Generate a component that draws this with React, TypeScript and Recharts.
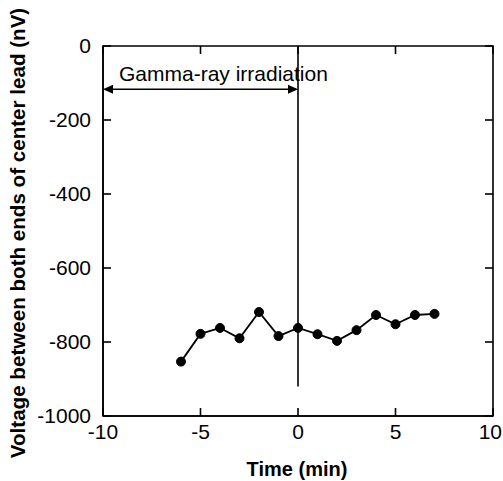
import React from 'react';
import { ComposedChart, Line, XAxis, YAxis, ReferenceLine, ReferenceArea } from 'recharts';

const times = [-6, -5, -4, -3, -2, -1, 0, 1, 2, 3, 4, 5, 6, 7];
const voltages = [-853, -778, -762, -790, -719, -784, -762, -779, -797, -768, -727, -752, -727, -724];
const xTicks = [-10, -5, 0, 5, 10];
const yTicks = [-1000, -800, -600, -400, -200, 0];
const xTitle = 'Time (min)';
const yTitle = 'Voltage between both ends of center lead (nV)';
const annotation = 'Gamma-ray irradiation';
const irradiationStart = -10;
const irradiationEnd = 0;
const arrowLevel = -117;
const markerBottom = -920;

const data = times.map((t, i) => ({ t, v: voltages[i] }));

const FONT = '"Liberation Sans", Arial, Helvetica, sans-serif';
const FS = 21;
const TFS = 20;
const YTFS = 20.6;
const TL = 8;
const SW = 1.6;
const W = 503;

const BottomTick = (p: any) => {
  const s = String(p.payload.value);
  const halfW = s.length * FS * 0.278;
  const tx = Math.min(p.x, W - 1 - halfW);
  return (
    <text x={tx} y={p.y + 8} dy="0.71em" textAnchor="middle" fontSize={FS} fontFamily={FONT} fill="#000">
      {s}
    </text>
  );
};
const LeftTick = (p: any) => (
  <text x={p.x - 12} y={p.y} dy="0.355em" textAnchor="end" fontSize={FS} fontFamily={FONT} fill="#000">
    {p.payload.value}
  </text>
);

const VTickShape = (p: any) => {
  const { x1, y1, y2 } = p;
  const top = Math.min(y1, y2);
  const bot = Math.max(y1, y2);
  return (
    <g>
      <line x1={x1} y1={top} x2={x1} y2={top + TL} stroke="#000" strokeWidth={SW} />
      <line x1={x1} y1={bot} x2={x1} y2={bot - TL} stroke="#000" strokeWidth={SW} />
    </g>
  );
};
const HTickShape = (p: any) => {
  const { x1, x2, y1 } = p;
  const l = Math.min(x1, x2);
  const r = Math.max(x1, x2);
  return (
    <g>
      <line x1={l} y1={y1} x2={l + TL} y2={y1} stroke="#000" strokeWidth={SW} />
      <line x1={r} y1={y1} x2={r - TL} y2={y1} stroke="#000" strokeWidth={SW} />
    </g>
  );
};

const ArrowShape = (p: any) => {
  const { x1, y1, x2, y2 } = p;
  const ah = 10;
  const aw = 4.5;
  return (
    <g>
      <line x1={x1 + 2} y1={y1} x2={x2 - 2} y2={y2} stroke="#000" strokeWidth={1.4} />
      <polygon points={`${x1},${y1} ${x1 + ah},${y1 - aw} ${x1 + ah},${y1 + aw}`} fill="#000" />
      <polygon points={`${x2},${y2} ${x2 - ah},${y2 - aw} ${x2 - ah},${y2 + aw}`} fill="#000" />
      <text x={x1 + 16} y={y1 - 8} fontSize={FS} fontFamily={FONT} fill="#000">
        {annotation}
      </text>
    </g>
  );
};

export default function App() {
  return (
    <div style={{ position: 'absolute', left: 0, top: 0, width: 503, height: 481, background: '#fff' }}>
      <ComposedChart width={503} height={481} data={data} margin={{ top: 46, right: 10, bottom: 0, left: 0 }}>
        <XAxis
          dataKey="t"
          type="number"
          domain={[-10, 10]}
          ticks={xTicks}
          height={65}
          axisLine={{ stroke: '#000', strokeWidth: SW }}
          tickLine={false}
          tickSize={0}
          tickMargin={0}
          tick={BottomTick}
          interval={0}
          label={{
            content: () => (
              <text x={297} y={476} textAnchor="middle" fontSize={TFS} fontWeight="bold" fontFamily={FONT} fill="#000">
                {xTitle}
              </text>
            ),
          }}
        />
        <YAxis
          type="number"
          domain={[-1000, 0]}
          ticks={yTicks}
          width={103}
          axisLine={{ stroke: '#000', strokeWidth: SW }}
          tickLine={false}
          tickSize={0}
          tickMargin={0}
          tick={LeftTick}
          interval={0}
          label={{
            content: () => (
              <text
                x={17}
                y={233}
                transform="rotate(-90, 17, 233)"
                textAnchor="middle"
                dominantBaseline="central"
                fontSize={YTFS}
                fontWeight="bold"
                fontFamily={FONT}
                fill="#000"
              >
                {yTitle}
              </text>
            ),
          }}
        />
        <ReferenceArea
          x1={-10}
          x2={10}
          y1={-1000}
          y2={0}
          fill="none"
          fillOpacity={0}
          stroke="#000"
          strokeWidth={SW}
        />
        {xTicks.map((t) => (
          <ReferenceLine key={`xt${t}`} x={t} shape={VTickShape} />
        ))}
        {yTicks.map((t) => (
          <ReferenceLine key={`yt${t}`} y={t} shape={HTickShape} />
        ))}
        <ReferenceLine
          segment={[{ x: irradiationEnd, y: 0 }, { x: irradiationEnd, y: markerBottom }]}
          stroke="#000"
          strokeWidth={1.6}
        />
        <ReferenceLine
          segment={[{ x: irradiationStart, y: arrowLevel }, { x: irradiationEnd, y: arrowLevel }]}
          shape={ArrowShape}
        />
        <Line
          dataKey="v"
          stroke="#000"
          strokeWidth={1.8}
          dot={{ r: 4.5, fill: '#000', stroke: '#000', strokeWidth: 1 }}
          isAnimationActive={false}
        />
      </ComposedChart>
    </div>
  );
}
